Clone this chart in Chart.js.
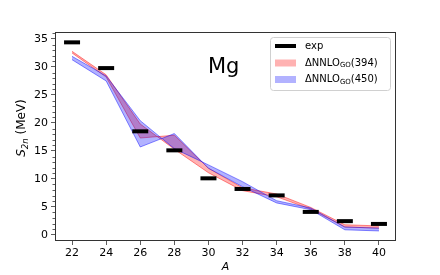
<!DOCTYPE html>
<html><head><meta charset="utf-8">
<script src="https://cdn.jsdelivr.net/npm/chart.js@4"></script>
<style>html,body{margin:0;padding:0;background:#fff}#wrap{width:440px;height:275px}</style>
</head><body><div id="wrap"><canvas id="c" width="440" height="275"></canvas></div>
<script>
const massNumbers = [22, 24, 26, 28, 30, 32, 34, 36, 38, 40];
const expS2n      = [34.4, 29.8, 18.5, 15.1, 10.1, 8.2, 7.05, 4.1, 2.45, 1.95];
const red394Edge1 = [32.8, 28.6, 19.8, 15.3, 11.1, 7.9, 6.8, 4.6, 1.4, 1.2];
const red394Edge2 = [32.5, 28.2, 17.3, 17.8, 11.9, 8.4, 7.3, 4.9, 1.8, 1.6];
const blue450Edge1 = [31.9, 28.4, 20.4, 15.4, 12.5, 9.5, 6.1, 4.8, 1.4, 1.2];
const blue450Edge2 = [31.3, 27.5, 15.7, 18.1, 11.9, 8.6, 5.7, 4.5, 0.9, 0.7];
const xTicks = [22, 24, 26, 28, 30, 32, 34, 36, 38, 40];
const yTicks = [0, 5, 10, 15, 20, 25, 30, 35];
const legendLabels = [["exp", ""], ["ΔNNLO", "GO", "(394)"], ["ΔNNLO", "GO", "(450)"]];

const FONT = "DejaVu Sans";
const pts = arr => massNumbers.map((a, i) => ({x: a, y: arr[i]}));

const RED_FILL = "rgba(255,0,0,0.3)", RED_EDGE = "rgba(255,0,0,0.45)";
const BLUE_FILL = "rgba(0,0,255,0.3)", BLUE_EDGE = "rgba(0,0,255,0.45)";

const decor = {
  id: "decor",
  afterDraw(chart) {
    const ctx = chart.ctx, ca = chart.chartArea;
    const ys = chart.scales.y;
    ctx.save();
    ctx.strokeStyle = "#333"; ctx.lineWidth = 1;
    ctx.strokeRect(Math.round(ca.left) + 0.5, Math.round(ca.top) + 0.5,
                   Math.round(ca.right - ca.left) - 1, Math.round(ca.bottom - ca.top) - 1);
    ctx.beginPath();
    for (let v = 0; v <= 36; v++) {
      if (v % 5 === 0) continue;
      const y = Math.round(ys.getPixelForValue(v)) + 0.5;
      ctx.moveTo(ca.left - 2.5, y); ctx.lineTo(ca.left, y);
    }
    ctx.lineWidth = 0.8; ctx.stroke();
    ctx.fillStyle = "#000";
    ctx.font = "21px '" + FONT + "'";
    ctx.textBaseline = "alphabetic";
    ctx.fillText("Mg", 208, 73);
    ctx.font = "italic 11px '" + FONT + "'";
    ctx.textAlign = "center";
    ctx.fillText("A", (ca.left + ca.right) / 2, 270);
    ctx.save();
    ctx.translate(25, 128);
    ctx.rotate(-Math.PI / 2);
    ctx.textAlign = "left";
    const p1 = "S", p2 = "2n", p3 = " (MeV)";
    ctx.font = "italic 12px '" + FONT + "'"; const w1 = ctx.measureText(p1).width;
    ctx.font = "italic 8.5px '" + FONT + "'"; const w2 = ctx.measureText(p2).width;
    ctx.font = "12px '" + FONT + "'"; const w3 = ctx.measureText(p3).width;
    let x0 = -(w1 + w2 + w3) / 2;
    ctx.font = "italic 12px '" + FONT + "'"; ctx.fillText(p1, x0, 0); x0 += w1;
    ctx.font = "italic 8.5px '" + FONT + "'"; ctx.fillText(p2, x0, 2.5); x0 += w2;
    ctx.font = "12px '" + FONT + "'"; ctx.fillText(p3, x0, 0);
    ctx.restore();
    const lx = 270, ly = 37, lw = 120, lh = 53;
    ctx.beginPath();
    if (ctx.roundRect) ctx.roundRect(lx + 0.5, ly + 0.5, lw, lh, 3); else ctx.rect(lx + 0.5, ly + 0.5, lw, lh);
    ctx.fillStyle = "rgba(255,255,255,0.85)"; ctx.fill();
    ctx.strokeStyle = "#d0d0d0"; ctx.lineWidth = 1; ctx.stroke();
    const rows = [46, 63, 79.5];
    ctx.strokeStyle = "#000"; ctx.lineWidth = 4;
    ctx.beginPath(); ctx.moveTo(275, rows[0]); ctx.lineTo(296, rows[0]); ctx.stroke();
    ctx.fillStyle = RED_FILL; ctx.fillRect(275, rows[1] - 3.5, 21, 7);
    ctx.fillStyle = BLUE_FILL; ctx.fillRect(275, rows[2] - 3.5, 21, 7);
    ctx.fillStyle = "#000"; ctx.textAlign = "left"; ctx.textBaseline = "middle";
    legendLabels.forEach((parts, i) => {
      let x = 305; const y = rows[i];
      ctx.font = "10px '" + FONT + "'";
      ctx.fillText(parts[0], x, y); x += ctx.measureText(parts[0]).width;
      if (parts.length > 2) {
        ctx.font = "7px '" + FONT + "'";
        ctx.fillText(parts[1], x, y + 2.5); x += ctx.measureText(parts[1]).width;
        ctx.font = "10px '" + FONT + "'";
        ctx.fillText(parts[2], x, y);
      }
    });
    ctx.restore();
  }
};

const bandLine = (data, color, fill) => ({
  type: "line", data, borderColor: color, borderWidth: 1, pointRadius: 0,
  tension: 0, fill: fill, backgroundColor: fill ? (color === RED_EDGE ? RED_FILL : BLUE_FILL) : "transparent"
});

new Chart(document.getElementById("c"), {
  type: "scatter",
  data: {
    datasets: [
      Object.assign(bandLine(pts(red394Edge1), RED_EDGE, false), {order: 4}),
      Object.assign(bandLine(pts(red394Edge2), RED_EDGE, "-1"), {order: 3}),
      Object.assign(bandLine(pts(blue450Edge1), BLUE_EDGE, false), {order: 2}),
      Object.assign(bandLine(pts(blue450Edge2), BLUE_EDGE, "-1"), {order: 1}),
      {type: "scatter", data: pts(expS2n), pointStyle: "line", pointRadius: 8, pointHoverRadius: 8,
       borderColor: "#000", borderWidth: 4, backgroundColor: "#000", order: 0}
    ]
  },
  options: {
    responsive: false, animation: false, events: [],
    layout: {padding: {top: 32, right: 44, left: 0, bottom: 0}},
    plugins: {legend: {display: false}, tooltip: {enabled: false}},
    scales: {
      x: {
        type: "linear", min: 21, max: 41,
        afterBuildTicks: s => { s.ticks = xTicks.map(v => ({value: v})); },
        afterFit: s => { s.height = 34; },
        grid: {display: true, drawOnChartArea: false, tickLength: 4, tickColor: "#333", tickWidth: 0.8},
        border: {display: false},
        ticks: {font: {family: FONT, size: 11}, color: "#000", padding: 2, maxRotation: 0}
      },
      y: {
        type: "linear", min: -1.1, max: 36.25,
        afterBuildTicks: s => { s.ticks = yTicks.map(v => ({value: v})); },
        afterFit: s => { s.width = 55; },
        grid: {display: true, drawOnChartArea: false, tickLength: 4, tickColor: "#333", tickWidth: 0.8},
        border: {display: false},
        ticks: {font: {family: FONT, size: 11}, color: "#000", padding: 3}
      }
    }
  },
  plugins: [decor]
});
</script></body></html>
